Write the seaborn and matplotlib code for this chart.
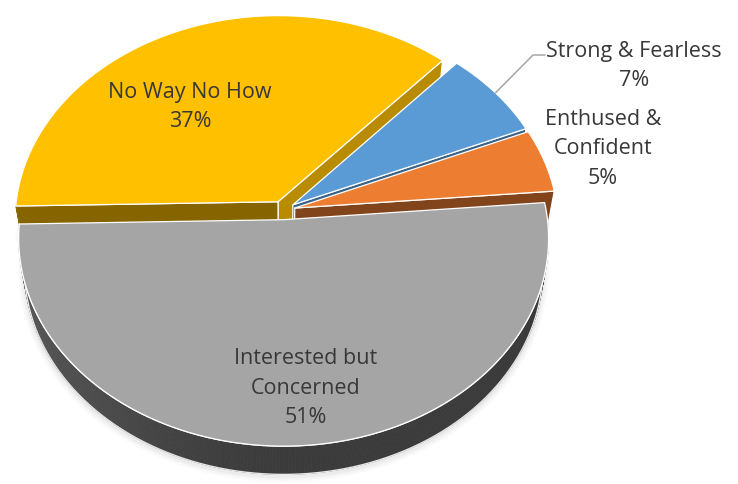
import numpy as np
import matplotlib
matplotlib.use("Agg")
import matplotlib.pyplot as plt
from matplotlib.patches import Polygon
import matplotlib.colors as mcolors
import seaborn as sns

# ---- data ----
categories = ["Strong & Fearless", "Enthused & Confident",
              "Interested but Concerned", "No Way No How"]
shares = [7, 5, 51, 37]
label_text = ["Strong & Fearless\n7%", "Enthused &\nConfident\n5%",
              "Interested but\nConcerned\n51%", "No Way No How\n37%"]
palette = ["#5B9BD5", "#ED7D31", "#A5A5A5", "#FFC000"]

sns.set_theme(style="white")
plt.rcParams["font.family"] = ["Open Sans", "DejaVu Sans"]

W, H = 738, 484
fig = plt.figure(figsize=(W / 100, H / 100), dpi=100)
ax = fig.add_axes([0, 0, 1, 1])
ax.set_xlim(0, W)
ax.set_ylim(H, 0)
ax.axis("off")

# ---- 3-D pie camera ----
first_angle = 48.0          # degrees, counter-clockwise from 3 o'clock
elev = np.radians(52)
dist = 7.0
focal = 1800.0
cx, cy = 283.0, 241.0
thick = 0.19
explode = 0.046
ce, se = np.cos(elev), np.sin(elev)


def proj(x, z, y):
    x, z, y = np.broadcast_arrays(np.asarray(x, float), np.asarray(z, float),
                                  np.asarray(y, float))
    d = dist + z * ce - y * se
    u = y * ce + z * se
    return np.column_stack([cx + focal * x / d, cy - focal * u / d])


def shade(color, f):
    r, g, b = mcolors.to_rgb(color)
    return (r * f, g * f, b * f)


# slice angle spans, clockwise from the first angle
spans = np.array(shares) / sum(shares) * 360.0
ends = first_angle - np.concatenate([[0], np.cumsum(spans)[:-1]])
starts = ends - spans
mids = (starts + ends) / 2

order = np.argsort(-np.sin(np.radians(mids)))

edge_kw = dict(edgecolor="white", linewidth=0.9, joinstyle="round")

for i in order:
    a, b, m = starts[i], ends[i], mids[i]
    ox = explode * np.cos(np.radians(m))
    oz = explode * np.sin(np.radians(m))
    top = palette[i]

    # radial walls facing the viewer
    for t, nrm in ((a, a - 90), (b, b + 90)):
        if np.sin(np.radians(nrm)) < -0.05:
            tr = np.radians(t)
            ex_, ez_ = ox + np.cos(tr), oz + np.sin(tr)
            quad = np.vstack([proj(ox, oz, 0), proj(ox, oz, thick),
                              proj(ex_, ez_, thick), proj(ex_, ez_, 0)])
            f = 0.40 + 0.35 * max(0.0, np.cos(np.radians(nrm + 20)))
            ax.add_patch(Polygon(quad, closed=True, facecolor=shade(top, f),
                                 **edge_kw, zorder=2))

    # outer rim on the front half
    th = np.linspace(a, b, 400)
    front = np.sin(np.radians(th)) < 0
    if front.any():
        thf = np.radians(th[front])
        xs, zs = ox + np.cos(thf), oz + np.sin(thf)
        up = proj(xs, zs, thick)
        dn = proj(xs, zs, 0)
        # soft drop shadow under the rim
        for w, al in ((9, 0.03), (6, 0.04), (3.5, 0.06)):
            ax.plot(dn[:, 0], dn[:, 1] + 1.5, color="#7a7a7a", lw=w,
                    alpha=al, solid_capstyle="round", zorder=1)
        for k in range(len(thf) - 1):
            ang = thf[k]
            f = 0.36 + 0.18 * max(0.0, -np.cos(ang)) ** 1.5
            c = shade(top, f)
            quad = np.vstack([up[k], up[k + 1], dn[k + 1], dn[k]])
            ax.add_patch(Polygon(quad, closed=True, facecolor=c, edgecolor=c,
                                 linewidth=0.6, zorder=2))
        ax.plot(up[:, 0], up[:, 1], color="white", lw=1.0, zorder=3)
        ax.plot(dn[:, 0], dn[:, 1], color="#e8e8e8", lw=1.0, zorder=3)

    # top face
    thr = np.radians(np.linspace(a, b, 300))
    arc = proj(ox + np.cos(thr), oz + np.sin(thr), thick)
    face = np.vstack([proj(ox, oz, thick), arc])
    ax.add_patch(Polygon(face, closed=True, facecolor=top, **edge_kw, zorder=4))

# ---- labels ----
txt = dict(color="#383838", fontsize=15.5, ha="center", va="center",
           linespacing=1.55, zorder=6)
ax.text(190, 107, label_text[3], **txt)
ax.text(306, 388, label_text[2], **txt)
ax.text(634, 66, label_text[0], **txt)
ax.text(603, 149, label_text[1], **txt)

# leader line for the smallest outside label
mb = np.radians(mids[0])
anchor = proj(explode * np.cos(mb) + np.cos(mb),
              explode * np.sin(mb) + np.sin(mb), thick)[0]
ax.plot([anchor[0], 533, 545], [anchor[1], 55, 55], color="#a6a6a6",
        lw=1.1, zorder=5)

fig.savefig("out.png", dpi=100)
